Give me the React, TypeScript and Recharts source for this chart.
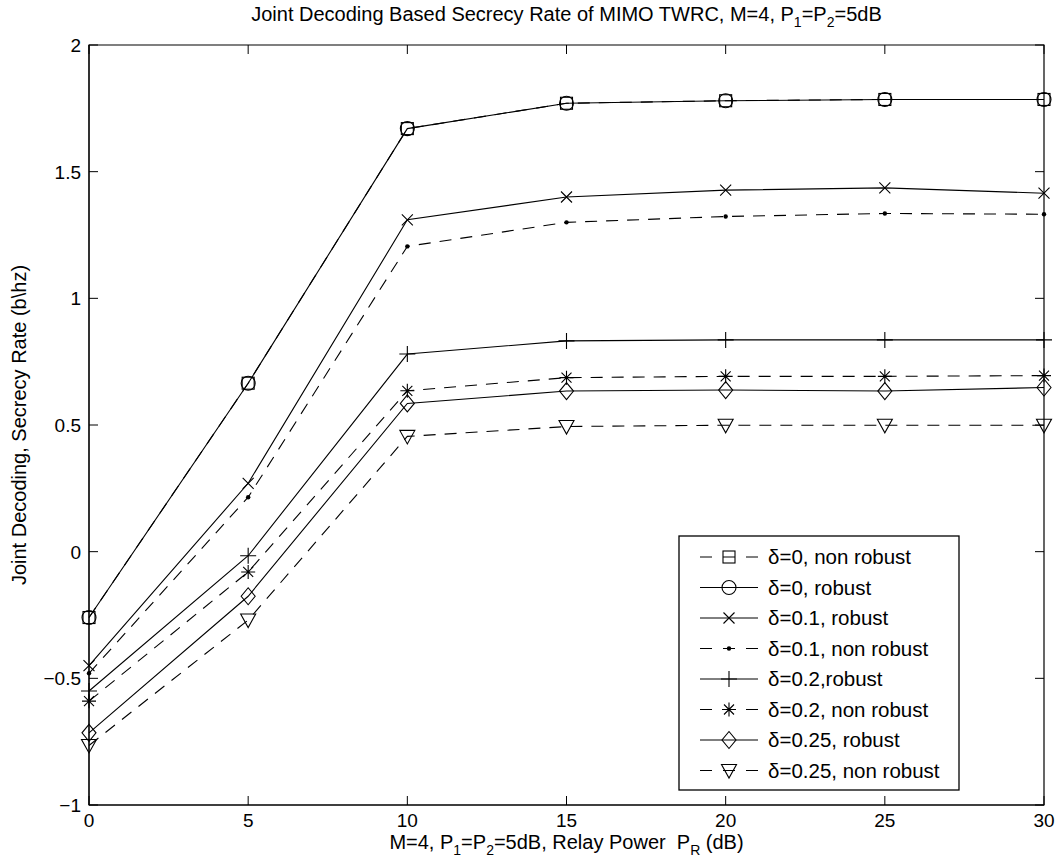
import React from "react";
import { LineChart, Line, XAxis, YAxis, ReferenceArea } from "recharts";

// plot box in page pixels
const W = 1060;
const H = 860;
const LEFT = 89;
const RIGHT = 1044;
const TOP = 45;
const BOTTOM = 805;
const TICK = 9;
const FONT = '"Liberation Sans", Arial, Helvetica, sans-serif';

const relayPower = [0, 5, 10, 15, 20, 25, 30];
const xTicks = [0, 5, 10, 15, 20, 25, 30];
const yTicks = [-1, -0.5, 0, 0.5, 1, 1.5, 2];

const d0NonRobust = [-0.26, 0.665, 1.67, 1.77, 1.78, 1.785, 1.785];
const d0Robust = [-0.26, 0.665, 1.67, 1.77, 1.78, 1.785, 1.785];
const d01Robust = [-0.45, 0.27, 1.31, 1.4, 1.427, 1.436, 1.415];
const d01NonRobust = [-0.48, 0.215, 1.205, 1.3, 1.323, 1.335, 1.332];
const d02Robust = [-0.55, -0.016, 0.78, 0.832, 0.836, 0.836, 0.836];
const d02NonRobust = [-0.59, -0.08, 0.635, 0.687, 0.692, 0.692, 0.695];
const d025Robust = [-0.715, -0.176, 0.585, 0.634, 0.638, 0.634, 0.648];
const d025NonRobust = [-0.765, -0.27, 0.455, 0.494, 0.499, 0.499, 0.499];

type Marker = "square" | "circle" | "cross" | "point" | "plus" | "star" | "diamond" | "triangle";

interface SeriesDef {
  key: string;
  name: string;
  values: number[];
  dashed: boolean;
  marker: Marker;
}

const series: SeriesDef[] = [
  { key: "d0n", name: "δ=0, non robust", values: d0NonRobust, dashed: true, marker: "square" },
  { key: "d0r", name: "δ=0, robust", values: d0Robust, dashed: false, marker: "circle" },
  { key: "d01r", name: "δ=0.1, robust", values: d01Robust, dashed: false, marker: "cross" },
  { key: "d01n", name: "δ=0.1, non robust", values: d01NonRobust, dashed: true, marker: "point" },
  { key: "d02r", name: "δ=0.2,robust", values: d02Robust, dashed: false, marker: "plus" },
  { key: "d02n", name: "δ=0.2, non robust", values: d02NonRobust, dashed: true, marker: "star" },
  { key: "d025r", name: "δ=0.25, robust", values: d025Robust, dashed: false, marker: "diamond" },
  { key: "d025n", name: "δ=0.25, non robust", values: d025NonRobust, dashed: true, marker: "triangle" },
];

const rows = relayPower.map((x, i) => {
  const row: Record<string, number> = { x };
  series.forEach((s) => {
    row[s.key] = s.values[i];
  });
  return row;
});

const DASH = "12 9";

function drawMarker(marker: Marker, cx: number, cy: number, key?: string) {
  const p = { stroke: "#000", strokeWidth: 1.1, fill: "none" };
  switch (marker) {
    case "square":
      return <rect key={key} x={cx - 6} y={cy - 6} width={12} height={12} {...p} />;
    case "circle":
      return <circle key={key} cx={cx} cy={cy} r={7} {...p} />;
    case "cross":
      return (
        <path key={key} d={`M${cx - 5.5},${cy - 5.5}L${cx + 5.5},${cy + 5.5}M${cx - 5.5},${cy + 5.5}L${cx + 5.5},${cy - 5.5}`} {...p} />
      );
    case "point":
      return <circle key={key} cx={cx} cy={cy} r={2.2} fill="#000" stroke="none" />;
    case "plus":
      return <path key={key} d={`M${cx - 8},${cy}L${cx + 8},${cy}M${cx},${cy - 8}L${cx},${cy + 8}`} {...p} />;
    case "star":
      return (
        <path
          key={key}
          d={`M${cx - 7},${cy}L${cx + 7},${cy}M${cx},${cy - 7}L${cx},${cy + 7}M${cx - 5},${cy - 5}L${cx + 5},${cy + 5}M${cx - 5},${cy + 5}L${cx + 5},${cy - 5}`}
          {...p}
        />
      );
    case "diamond":
      return <path key={key} d={`M${cx},${cy - 8.5}L${cx + 7},${cy}L${cx},${cy + 8.5}L${cx - 7},${cy}Z`} {...p} />;
    case "triangle":
      return <path key={key} d={`M${cx - 7.5},${cy - 6}L${cx + 7.5},${cy - 6}L${cx},${cy + 7.5}Z`} {...p} />;
  }
}

const fmt = (v: number) => (v < 0 ? "\u2212" + Math.abs(v) : String(v));

function XTick(props: any) {
  const { x, payload } = props;
  return (
    <g>
      <line x1={x} y1={BOTTOM} x2={x} y2={BOTTOM - TICK} stroke="#000" />
      <line x1={x} y1={TOP} x2={x} y2={TOP + TICK} stroke="#000" />
      <text x={x} y={BOTTOM + 22} textAnchor="middle" fontSize={19} fontFamily={FONT} fill="#000">
        {payload.value}
      </text>
    </g>
  );
}

function YTick(props: any) {
  const { y, payload } = props;
  return (
    <g>
      <line x1={LEFT} y1={y} x2={LEFT + TICK} y2={y} stroke="#000" />
      <line x1={RIGHT} y1={y} x2={RIGHT - TICK} y2={y} stroke="#000" />
      <text x={LEFT - 8} y={y + 7} textAnchor="end" fontSize={19} fontFamily={FONT} fill="#000">
        {fmt(payload.value)}
      </text>
    </g>
  );
}

// legend box geometry
const LG_X = 679;
const LG_Y = 536;
const LG_W = 280;
const LG_ROW0 = 557;
const LG_STEP = 30.5;

function ChartLegend() {
  return (
    <g>
      <rect x={LG_X} y={LG_Y} width={LG_W} height={254} fill="#fff" stroke="#000" strokeWidth={1.3} />
      {series.map((s, i) => {
        const cy = LG_ROW0 + i * LG_STEP;
        return (
          <g key={s.key}>
            <line x1={700} y1={cy} x2={758} y2={cy} stroke="#000" strokeDasharray={s.dashed ? "12 11" : undefined} />
            {drawMarker(s.marker, 729, cy)}
            <text x={768} y={cy + 7} fontSize={20.5} fontFamily={FONT} fill="#000">
              {s.name}
            </text>
          </g>
        );
      })}
    </g>
  );
}

export default function App() {
  return (
    <div style={{ position: "absolute", left: 0, top: 0, width: W, height: H, background: "#fff" }}>
      <LineChart width={W} height={H} data={rows} margin={{ top: TOP, right: W - RIGHT, left: 0, bottom: 0 }}>
        <XAxis
          dataKey="x"
          type="number"
          domain={[0, 30]}
          ticks={xTicks}
          height={H - BOTTOM}
          tickSize={0}
          tickLine={false}
          axisLine={{ stroke: "#000" }}
          tick={(p: any) => <XTick {...p} />}
          interval={0}
        />
        <YAxis
          type="number"
          domain={[-1, 2]}
          ticks={yTicks}
          width={LEFT}
          tickSize={0}
          tickLine={false}
          axisLine={{ stroke: "#000" }}
          tick={(p: any) => <YTick {...p} />}
          interval={0}
        />
        <ReferenceArea x1={0} x2={30} y1={-1} y2={2} fill="none" stroke="#000" strokeWidth={1.2} ifOverflow="visible" />
        {series.map((s) => (
          <Line
            key={s.key}
            dataKey={s.key}
            type="linear"
            stroke="#000"
            strokeWidth={1.1}
            strokeDasharray={s.dashed ? DASH : undefined}
            dot={(d: any) => drawMarker(s.marker, d.cx, d.cy, `${s.key}-${d.index}`)}
            activeDot={false}
            isAnimationActive={false}
          />
        ))}
      </LineChart>
      <svg
        width={W}
        height={H}
        style={{ position: "absolute", left: 0, top: 0, pointerEvents: "none" }}
        fontFamily={FONT}
      >
        <text x={(LEFT + RIGHT) / 2} y={21} textAnchor="middle" fontSize={20} fill="#000">
          Joint Decoding Based Secrecy Rate of MIMO TWRC, M=4, P
          <tspan fontSize={14} dy={6}>1</tspan>
          <tspan dy={-6}>=P</tspan>
          <tspan fontSize={14} dy={6}>2</tspan>
          <tspan dy={-6}>=5dB</tspan>
        </text>
        <text x={(LEFT + RIGHT) / 2} y={849} textAnchor="middle" fontSize={20} fill="#000">
          M=4, P
          <tspan fontSize={14} dy={6}>1</tspan>
          <tspan dy={-6}>=P</tspan>
          <tspan fontSize={14} dy={6}>2</tspan>
          <tspan dy={-6}>{"=5dB, Relay Power\u00a0\u00a0P"}</tspan>
          <tspan fontSize={14} dy={6}>R</tspan>
          <tspan dy={-6}>{" (dB)"}</tspan>
        </text>
        <text
          x={0}
          y={0}
          transform={`translate(26, ${(TOP + BOTTOM) / 2}) rotate(-90)`}
          textAnchor="middle"
          fontSize={20}
          fill="#000"
        >
          {"Joint Decoding, Secrecy Rate (b\\hz)"}
        </text>
        <ChartLegend />
      </svg>
    </div>
  );
}
